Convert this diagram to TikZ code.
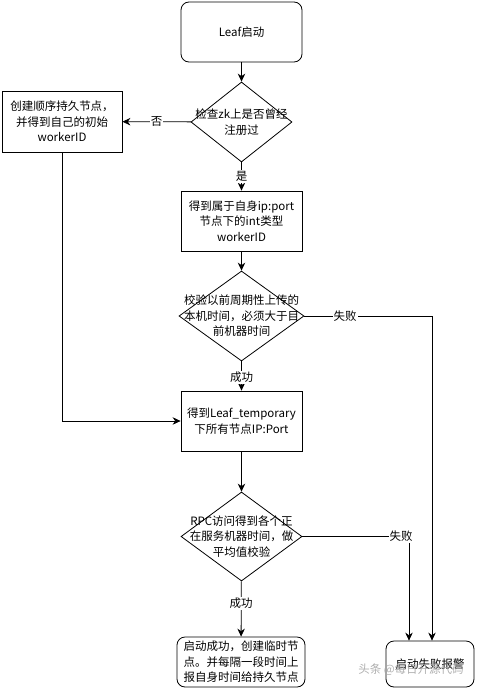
\documentclass[tikz,border=0pt]{standalone}
\usepackage{fontspec}
\setmainfont{Noto Sans CJK SC}
\usetikzlibrary{arrows.meta,shapes.geometric}
\begin{document}
\begin{tikzpicture}[x=1pt,y=-1pt,
  every node/.style={font=\fontsize{11.5}{15.5}\selectfont,align=center},
  box/.style={draw,line width=0.8pt,inner sep=0pt,minimum width=121pt,minimum height=60pt},
  rbox/.style={box,rounded corners=8pt},
  dia/.style={draw,line width=0.8pt,diamond,inner sep=0pt,minimum width=#1},
  lbl/.style={fill=white,inner sep=1pt},
  arr/.style={draw,line width=0.8pt,-{Stealth[length=8pt,width=7.5pt]}},
  ln/.style={draw,line width=0.8pt}]
\useasboundingbox (0,0) rectangle (478,688);
% nodes
\node[rbox] (start) at (241.5,32) {Leaf启动};
\node[dia=1pt,minimum width=101pt,minimum height=80pt] (d1) at (241.5,122) {};
\node (d1t) at (241.5,122) {检查zk上是否曾经\\注册过};
\node[box,minimum width=120pt,minimum height=61pt] (left) at (62,121.5) {创建顺序持久节点，\\并得到自己的初始\\workerID};
\node[box] (b2) at (241.5,221) {得到属于自身ip:port\\节点下的int类型\\workerID};
\node[dia=1pt,minimum width=125pt,minimum height=90pt] (d2) at (241.5,316) {};
\node (d2t) at (241.5,316) {校验以前周期性上传的\\本机时间，必须大于目\\前机器时间};
\node[box] (b3) at (241.5,421) {得到Leaf\_temporary\\下所有节点IP:Port};
\node[dia=1pt,minimum width=121pt,minimum height=89pt] (d3) at (241.5,536.5) {};
\node (d3t) at (241.5,536.5) {RPC访问得到各个正\\在服务机器时间，做\\平均值校验};
\node[rbox,minimum width=128pt,minimum height=50pt] (ok) at (241,662) {启动成功，创建临时节\\点。并每隔一段时间上\\报自身时间给持久节点};
\node[rbox,minimum width=88pt,minimum height=46pt] (fail) at (430,664) {启动失败报警};
\node[text=gray!70,opacity=0.9] (wm) at (411,670) {头条 @每日开源代码};
% connectors
\path[arr] (start) -- (d1);
\path[arr] (d1) -- node[lbl] {否} (left);
\path[arr] (d1) -- node[lbl,pos=0.5] {是} (b2);
\path[arr] (b2) -- (d2);
\path[arr] (d2) -- node[lbl,pos=0.55] {成功} (b3);
\path[arr] (left.south) |- (b3.west);
\path[arr] (b3) -- (d3);
\path[arr] (d3) -- node[lbl,pos=0.4] {成功} (ok);
\coordinate (c1) at (432,316);
\coordinate (c2) at (409,536.5);
\path[ln] (d2.east) -- node[lbl,pos=0.32] {失败} (c1);
\path[arr] (c1) -- (c1 |- fail.north);
\path[ln] (d3.east) -- (c2);
\path[arr] (c2) -- (c2 |- fail.north);
\node[lbl] (f2) at (401,536.5) {失败};
\end{tikzpicture}
\end{document}
